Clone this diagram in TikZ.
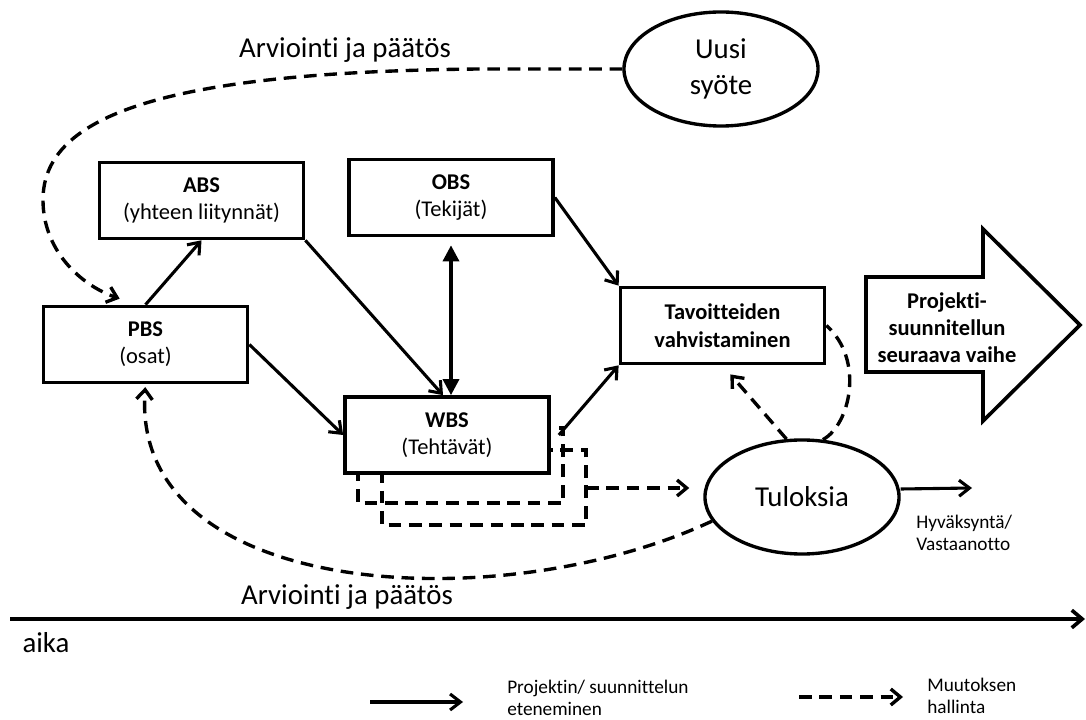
\documentclass[tikz,border=0pt]{standalone}
\usepackage{fontspec}
\setmainfont{Carlito}[Ligatures=NoCommon]
\usetikzlibrary{arrows.meta,shapes.geometric}

\begin{document}
\begin{tikzpicture}[x=0.025cm,y=-0.025cm,
    box/.style={draw,line width=2.6pt,fill=white,minimum width=5.1cm,minimum height=1.9cm,
      inner sep=0pt,align=center,font=\fontsize{16}{19}\selectfont},
    oval/.style={draw,line width=2.4pt,ellipse,fill=white,minimum width=4.85cm,minimum height=2.85cm,
      inner sep=0pt,align=center,font=\fontsize{20.5}{25.5}\selectfont},
    flow/.style={line width=2.2pt,-{Straight Barb[length=2.6mm,width=4mm,line width=2.2pt]}},
    chg/.style={line width=2.4pt,dash pattern=on 9pt off 5.5pt},
    chgarrow/.style={chg,-{Straight Barb[length=2.4mm,width=4mm,line width=2.4pt]}},
    big/.style={font=\fontsize{20.5}{25}\selectfont},
    small/.style={font=\fontsize{13.7}{15.8}\selectfont,align=left,inner sep=0pt}]
    \useasboundingbox (0,0) rectangle (1086,720);

    % Stacked copies behind WBS
    \draw[chg] (382,450) rectangle (586,525);
    \draw[chg] (358,428) rectangle (563,503);

    % Breakdown structures
    \node[box] (abs) at (201.5,200.5) {\textbf{ABS}\\(yhteen liitynnät)};
    \node[box] (obs) at (451,197.5) {\textbf{OBS}\\(Tekijät)};
    \node[box] (pbs) at (145.5,344.5) {\textbf{PBS}\\(osat)};
    \node[box] (wbs) at (447,435) {\textbf{WBS}\\(Tehtävät)};
    \node[box,font=\bfseries\fontsize{16}{20}\selectfont] (tav) at (722.5,325.5) {Tavoitteiden\\vahvistaminen};

    % Input and results
    \node[oval] (uusi) at (721,69) {Uusi\\syöte};
    \node[oval] (tulos) at (802,497) {Tuloksia};

    % Next phase
    \draw[line width=2.6pt,fill=white] (866,277) -- (983,277) -- (983,229) -- (1080,325)
      -- (983,421) -- (983,372) -- (866,372) -- cycle;
    \node[align=center,font=\bfseries\fontsize{16}{19.3}\selectfont] (next) at (947,328)
      {Projekti-\\suunnitellun\\seuraava vaihe};

    % Progress
    \draw[flow] (pbs.north) -- (abs.south);
    \draw[flow] (abs.south east) -- ([xshift=-0.1cm]wbs.north);
    \draw[flow] (pbs.east) -- (wbs.west);
    \draw[flow] (obs.east) -- (tav.north west);
    \draw[flow] ([xshift=0.2cm]wbs.east) -- (tav.south west);
    \draw[line width=2.4pt,{Triangle[length=4mm,width=4mm]}-{Triangle[length=4mm,width=4mm]},
      shorten <=0.2cm] (obs.south) -- (obs.south |- wbs.north);
    \coordinate (accept) at (972,488);
    \draw[flow] ([yshift=0.2cm]tulos.east) -- (accept);

    % Change management
    \draw[chgarrow] (uusi.west) -- (480,69) .. controls (150,72) and (43,120) .. (43,200)
      .. controls (43,250) and (80,285) .. ([xshift=1.95cm,yshift=0.15cm]pbs.north west);
    \coordinate (stack) at (586,488);
    \draw[chgarrow,shorten >=0.35cm] (stack) -- (stack -| tulos.west);
    \draw[chgarrow,shorten >=0.3cm] (tulos.105) -- (tav.south);
    \draw[chg] (tulos.70) .. controls (850,425) and (865,360) .. (tav.east);
    \draw[chgarrow,shorten >=2pt] (tulos.195) .. controls (500,620) and (130,600) .. (pbs.south);

    % Labels
    \node[big] (evaltop) at (345,50) {Arviointi ja päätös};
    \node[small] (hyv) [anchor=west] at (916,533) {Hyväksyntä/\\Vastaanotto};

    % Time axis
    \coordinate (t0) at (10,619);
    \coordinate (t1) at (1085,619);
    \draw[line width=2.8pt,-{Straight Barb[length=2.6mm,width=4.4mm,line width=2.6pt]}] (t0) -- (t1);
    \node[big] (evalbot) at (347,597) {Arviointi ja päätös};
    \node[big] (aika) at (46,643) {aika};

    % Legend
    \coordinate (l1a) at (370,702);
    \coordinate (l1b) at (463,702);
    \draw[flow] (l1a) -- (l1b);
    \node[small] (leg1) [anchor=west] at (507,698) {Projektin/ suunnittelun\\eteneminen};
    \coordinate (l2a) at (799,697);
    \coordinate (l2b) at (903,697);
    \draw[chgarrow] (l2a) -- (l2b);
    \node[small] (leg2) [anchor=west] at (927,696) {Muutoksen\\hallinta};
\end{tikzpicture}
\end{document}
